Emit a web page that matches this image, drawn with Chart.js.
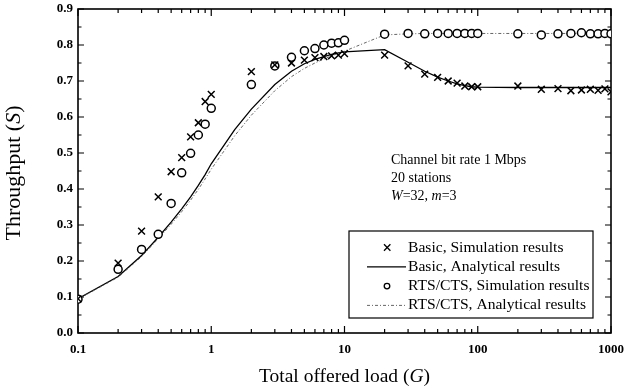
<!DOCTYPE html>
<html><head><meta charset="utf-8">
<script src="https://cdn.jsdelivr.net/npm/chart.js@4/dist/chart.umd.min.js"></script>
<style>html,body{margin:0;padding:0;background:#fff;}#wrap{width:625px;height:391px;position:relative;}</style>
</head><body><div id="wrap"><canvas id="c" width="625" height="391"></canvas></div>
<script>
// ---- data ----
const simLoads = [0.1,0.2,0.3,0.4,0.5,0.6,0.7,0.8,0.9,1,2,3,4,5,6,7,8,9,10,20,30,40,50,60,70,80,90,100,200,300,400,500,600,700,800,900,1000];
const basicSim = [0.095,0.194,0.283,0.378,0.448,0.487,0.545,0.584,0.643,0.663,0.726,0.745,0.75,0.758,0.765,0.768,0.77,0.772,0.776,0.772,0.742,0.719,0.71,0.70,0.694,0.686,0.684,0.684,0.686,0.677,0.679,0.673,0.675,0.677,0.674,0.678,0.67];
const rtsSim   = [0.094,0.177,0.232,0.274,0.36,0.445,0.499,0.55,0.58,0.624,0.69,0.742,0.766,0.784,0.79,0.80,0.805,0.806,0.813,0.83,0.832,0.831,0.832,0.832,0.832,0.832,0.832,0.832,0.831,0.828,0.831,0.832,0.834,0.831,0.831,0.832,0.831];
const anaLoads = [0.1,0.2,0.3,0.4,0.5,0.6,0.7,0.8,0.9,1,1.5,2,3,4,5,6,7,8,9,10,20,30,40,50,60,70,80,90,100,200,500,1000];
const basicAna = [0.095,0.157,0.215,0.266,0.308,0.345,0.378,0.41,0.44,0.47,0.565,0.622,0.69,0.727,0.748,0.76,0.768,0.774,0.778,0.781,0.787,0.752,0.727,0.711,0.70,0.692,0.687,0.684,0.683,0.682,0.682,0.682];
const rtsAna   = [0.094,0.155,0.212,0.262,0.302,0.337,0.369,0.399,0.428,0.455,0.548,0.605,0.673,0.712,0.735,0.75,0.761,0.77,0.777,0.783,0.828,0.831,0.832,0.832,0.832,0.832,0.832,0.832,0.832,0.832,0.832,0.832];
const xTickValues = [0.1,1,10,100,1000];
const xTickLabels = ['0.1','1','10','100','1000'];
const yTickValues = [0,0.1,0.2,0.3,0.4,0.5,0.6,0.7,0.8,0.9];
const legendLabels = ['Basic, Simulation results','Basic, Analytical results','RTS/CTS, Simulation results','RTS/CTS, Analytical results'];
const noteLines = [[['Channel bit rate 1 Mbps',false]],[['20 stations',false]],[['W',true],['=32, ',false],['m',true],['=3',false]]];
const xTitle = [['Total offered load (',false],['G',true],[')',false]];
const yTitle = [['Throughput (',false],['S',true],[')',false]];

const pts = (xs, ys) => xs.map((x,i)=>({x, y: ys[i]}));
const SERIF = '"Liberation Serif","Times New Roman",serif';

function richWidth(ctx, parts, size){
  let w=0; for(const [t,it] of parts){ ctx.font=(it?'italic ':'')+size+'px '+SERIF; w+=ctx.measureText(t).width; } return w;
}
function drawRich(ctx, parts, x, y, size, align){
  let w = richWidth(ctx, parts, size);
  let cx = align==='center' ? x - w/2 : x;
  ctx.textAlign='left'; ctx.textBaseline='middle';
  for(const [t,it] of parts){ ctx.font=(it?'italic ':'')+size+'px '+SERIF; ctx.fillText(t,cx,y); cx+=ctx.measureText(t).width; }
}

const framePlugin = {
  id:'frame',
  beforeDatasetsDraw(chart){
    const {ctx, chartArea:{left,right,top,bottom}, scales:{x,y}} = chart;
    ctx.save();
    ctx.strokeStyle='#000';
    ctx.lineWidth=1.2;
    ctx.beginPath();
    for(let d=-1; d<=3; d++){
      for(let k=1;k<10;k++){
        const v=k*Math.pow(10,d); if(v>1000.0001) break;
        const px=x.getPixelForValue(v); const L = k===1?7:4;
        ctx.moveTo(px,bottom); ctx.lineTo(px,bottom-L);
        ctx.moveTo(px,top); ctx.lineTo(px,top+L);
      }
    }
    for(let i=0;i<=18;i++){
      const v=i*0.05; const py=y.getPixelForValue(v); const L = i%2===0?6:3.5;
      ctx.moveTo(left,py); ctx.lineTo(left+L,py);
      ctx.moveTo(right,py); ctx.lineTo(right-L,py);
    }
    ctx.stroke();
    ctx.lineWidth=1.6;
    ctx.strokeRect(left,top,right-left,bottom-top);
    ctx.restore();
  },
  afterDraw(chart){
    const {ctx, chartArea:{left,right,top,bottom}} = chart;
    ctx.save();
    ctx.fillStyle='#000';
    // axis titles
    drawRich(ctx, xTitle, (left+right)/2, 377, 19.5, 'center');
    ctx.save(); ctx.translate(14,(top+bottom)/2+2); ctx.rotate(-Math.PI/2);
    drawRich(ctx, yTitle, 0, 0, 22, 'center'); ctx.restore();
    // annotation
    noteLines.forEach((ln,i)=> drawRich(ctx, ln, 391, 160+i*18, 14, 'left'));
    // legend box
    const bx=349, by=231, bw=244, bh=87;
    ctx.fillStyle='#fff'; ctx.fillRect(bx,by,bw,bh);
    ctx.strokeStyle='#000'; ctx.lineWidth=1.2; ctx.strokeRect(bx,by,bw,bh);
    const ds = chart.data.datasets;
    legendLabels.forEach((lab,i)=>{
      const d = ds.find(s=>s.label===lab);
      const cy = by+16.5+i*19.3;
      ctx.save();
      if(d.showLine){
        ctx.strokeStyle=d.borderColor; ctx.lineWidth=d.borderWidth; ctx.setLineDash(d.borderDash||[]);
        ctx.beginPath(); ctx.moveTo(367,cy); ctx.lineTo(406,cy); ctx.stroke();
      } else {
        ctx.strokeStyle='#000'; ctx.fillStyle='#fff';
        ctx.beginPath();
        if(d.pointStyle==='circle'){ ctx.arc(387,cy,2.8,0,Math.PI*2); ctx.fill(); }
        else { ctx.moveTo(384,cy-3.2); ctx.lineTo(390.4,cy+3.2); ctx.moveTo(390.4,cy-3.2); ctx.lineTo(384,cy+3.2); }
        ctx.lineWidth=1.3; ctx.stroke();
      }
      ctx.restore();
      ctx.fillStyle='#000';
      drawRich(ctx, [[lab,false]], 408, cy, 15.6, 'left');
    });
    ctx.restore();
  }
};

new Chart(document.getElementById('c'), {
  type:'scatter',
  data:{ datasets:[
    {label:legendLabels[0], data:pts(simLoads,basicSim), showLine:false, pointStyle:'crossRot', pointRadius:4.8, borderColor:'#000', backgroundColor:'#000', pointBorderWidth:1.5, borderWidth:1.5, order:0},
    {label:legendLabels[2], data:pts(simLoads,rtsSim), showLine:false, pointStyle:'circle', pointRadius:4, borderColor:'#000', backgroundColor:'#fff', pointBorderWidth:1.5, borderWidth:1.5, order:0},
    {label:legendLabels[1], data:pts(anaLoads,basicAna), showLine:true, pointRadius:0, borderColor:'#000', borderWidth:1.3, tension:0, order:2},
    {label:legendLabels[3], data:pts(anaLoads,rtsAna), showLine:true, pointRadius:0, borderColor:'#555', borderWidth:0.9, borderDash:[3,2,1,2], tension:0, order:1}
  ]},
  options:{
    responsive:false, animation:false, devicePixelRatio:1,
    layout:{padding:0},
    plugins:{legend:{display:false}, tooltip:{enabled:false}},
    scales:{
      x:{type:'logarithmic', min:0.1, max:1000,
        grid:{display:false, drawTicks:false}, border:{display:false},
        afterBuildTicks:s=>{ s.ticks = xTickValues.map(v=>({value:v})); },
        afterFit:s=>{ s.height=58; s.paddingLeft=0; s.paddingRight=14; },
        ticks:{padding:9, color:'#000', autoSkip:false, maxRotation:0, font:{family:SERIF, size:13, weight:'bold'}, callback:(v,i)=>xTickLabels[i]}},
      y:{type:'linear', min:0, max:0.9,
        grid:{display:false, drawTicks:false}, border:{display:false},
        afterBuildTicks:s=>{ s.ticks = yTickValues.map(v=>({value:v})); },
        afterFit:s=>{ s.width=78; s.paddingTop=9; s.paddingBottom=0; },
        ticks:{padding:5, color:'#000', font:{family:SERIF, size:13, weight:'bold'}, callback:v=>Number(v).toFixed(1)}}
    }
  },
  plugins:[framePlugin]
});
</script></body></html>
